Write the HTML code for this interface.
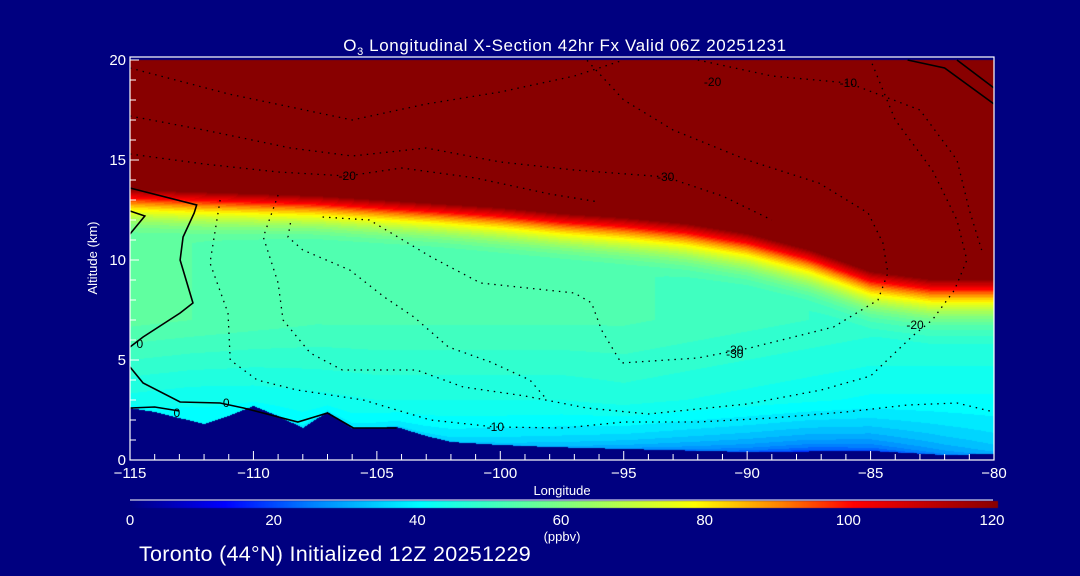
<!DOCTYPE html>
<html><head><meta charset="utf-8"><style>
body{margin:0;background:#000080;width:1080px;height:576px;overflow:hidden;font-family:"Liberation Sans",sans-serif;}
#wrap{position:relative;width:1080px;height:576px;}
canvas{position:absolute;left:0;top:0;}
svg{position:absolute;left:0;top:0;}
text{fill:#fff;font-family:"Liberation Sans",sans-serif;}
</style></head><body>
<div id="wrap">
<canvas id="cv" width="1080" height="576"></canvas>
<svg id="sv" width="1080" height="576"></svg>
</div>
<script>
// ---- data ----
const profLons = [-115,-112.5,-110,-107.5,-105,-102.5,-100,-97.5,-95,-92.5,-90,-87.5,-85,-82.5,-80];
const tropoTop = [13.5,13.4,13.3,13.2,13.0,12.8,12.6,12.3,12.1,11.8,11.3,10.5,9.4,9.0,9.0];
const bandWidth = [2.5,2.6,2.6,2.6,2.6,2.6,2.7,2.7,2.8,2.9,3.0,3.1,3.2,3.2,3.2];
const midO3 = [56,55,54,53,53,53,53,53,53,52,51,50,49,49,49];
const lowO3 = [44,43,43,44,45,45,45,45,46,45,44,43,42,42,42];
const sfcO3 = [40,40,40,38,36,34,32,30,27,24,21,18,19,24,30];
const groundLon = [-115,-114,-113,-112,-111,-110,-109,-108,-107,-106,-105,-104.2,-103,-102,-100,-98,-95,-90,-85,-82,-80];
const groundAlt = [2.6,2.4,2.1,1.8,2.2,2.7,2.2,1.6,2.4,1.6,1.6,1.65,1.2,0.9,0.75,0.65,0.55,0.4,0.45,0.25,0.3];
const xTicks = [-115,-110,-105,-100,-95,-90,-85,-80];
const yTicks = [0,5,10,15,20];
const cbTicks = [0,20,40,60,80,100,120];
const dottedContours = [
 {label:"-10", at:[-100.2,1.65], pts:[[-111.35,13],[-111.76,9.85],[-111.03,7.35],[-110.94,5],[-109.85,4],[-108.23,3.5],[-105.55,3],[-102.83,2],[-100.2,1.65],[-97.4,1.6],[-95,1.9],[-92,1.9],[-89,2.1],[-86,2.4],[-83.5,2.75],[-81.5,2.85],[-80,2.4]]},
 {label:"-20", at:[-83.2,6.75], pts:[[-109,13.25],[-109.6,11.15],[-109,8.85],[-108.8,7],[-107.7,5.35],[-106.4,4.5],[-103.4,4.5],[-101.5,3.65],[-99,3.2],[-96.5,2.6],[-94,2.3],[-90,2.8],[-87,3.5],[-85,4.2],[-83.3,6.2],[-82.5,7],[-81.6,8.5],[-81.1,10],[-81.5,12],[-82.5,14.5],[-84,17],[-85,20]]},
 {label:"-30", at:[-90.5,5.5], pts:[[-108.5,11.85],[-108.6,11.15],[-108,10.5],[-106.1,9.5],[-104.7,8.15],[-103.5,7.15],[-102.1,5.65],[-100.4,4.9],[-98.8,4],[-98.1,3]]},
 {label:"-30", at:[-90.5,5.3], pts:[[-107.2,12.15],[-105.3,12],[-102.8,10.15],[-100.8,8.85],[-97,8.35],[-96.3,7.85],[-95.9,6.5],[-95.1,4.85],[-92,5.1],[-89.9,5.6],[-86.5,6.65],[-84.7,8],[-84.3,9.35],[-84.5,10.85],[-85.1,12.35],[-87.1,13.85],[-90,15],[-93,16.5],[-95,18],[-96.5,20]]},
 {label:"-20", at:[-106.2,14.2], pts:[[-115,15.3],[-112,14.8],[-109,14.4],[-106.2,14.2],[-104,14.6],[-101,14.1],[-98,13.3],[-96,12.9]]},
 {label:"-30", at:[-93.3,14.15], pts:[[-115,17.2],[-112,16.5],[-108.5,15.6],[-106,15.2],[-103,15.6],[-100,14.9],[-97,14.5],[-93.3,14.15],[-91,13.2],[-89,12]]},
 {label:"-20", at:[-91.4,18.9], pts:[[-115,19.6],[-111,18.3],[-106,17],[-103,17.8],[-100,18.4],[-97,19.2],[-95,20]]},
 {label:"-10", at:[-85.9,18.85], pts:[[-92,20],[-89,19.2],[-85.9,18.85],[-83,17.5],[-81.5,15],[-81,12.5],[-80.5,10.5]]}
];
const solidContours = [
 {label:"0", at:[-114.6,5.8], pts:[[-115,13.6],[-112.3,12.75],[-112.4,12.35],[-112.85,11.15],[-112.97,10],[-112.45,7.85],[-112.97,7.35],[-114.47,6.15],[-115,5.65]]},
 {label:"0", at:[-111.1,2.85], pts:[[-115,4.65],[-114.47,3.85],[-112.97,2.9],[-111.35,2.85],[-110.4,2.6],[-108.2,1.9],[-107,2.35],[-105.95,1.6],[-104.2,1.6]]},
 {label:"0", at:[-113.1,2.35], pts:[[-115,2.6],[-114,2.65],[-113,2.45]]},
 {label:"", at:null, pts:[[-115,12.45],[-114.4,12.2],[-115,11.3]]},
 {label:"", at:null, pts:[[-81.5,20],[-80,18.6]]},
 {label:"", at:null, pts:[[-83.5,20],[-82,19.6],[-80,17.8]]}
];
// ---- scales ----
const X0=130,X1=994,Y0=460,Y1=60;
const xs = l => X0+(l+115)/35*(X1-X0);
const ys = a => Y0-a/20*(Y0-Y1);
function interp(xa,ya,x){ if(x<=xa[0])return ya[0]; for(let i=1;i<xa.length;i++){ if(x<=xa[i]){const t=(x-xa[i-1])/(xa[i]-xa[i-1]);return ya[i-1]+t*(ya[i]-ya[i-1]);}} return ya[ya.length-1]; }
const cstops=[[0,[0,0,130]],[13,[0,0,255]],[25,[0,128,255]],[40,[0,255,255]],[60,[128,255,128]],[78,[255,255,0]],[90,[255,128,0]],[100,[255,0,0]],[120,[136,0,0]]];
function cmap(v){ v=Math.max(0,Math.min(120,v)); for(let i=1;i<cstops.length;i++){ if(v<=cstops[i][0]){const a=cstops[i-1],b=cstops[i];const t=(v-a[0])/(b[0]-a[0]);return a[1].map((c,k)=>Math.round(c+t*(b[1][k]-c)));}} return cstops[cstops.length-1][1]; }
function field(lon,z){
  const T=interp(profLons,tropoTop,lon),B=interp(profLons,bandWidth,lon),M=interp(profLons,midO3,lon),L=interp(profLons,lowO3,lon),S=interp(profLons,sfcO3,lon),G=interp(groundLon,groundAlt,lon);
  if(z>=T) return 125;
  if(z>T-B){const t=(z-(T-B))/B;return M+t*t*(120-M);}
  if(z>=7) return M;
  if(z>=3) return L+(z-3)/4*(M-L);
  const t=Math.max(0,(z-G)/Math.max(0.1,3-G)); return S+Math.sqrt(t)*(L-S);
}
// ---- draw field ----
const cv=document.getElementById('cv'),ctx=cv.getContext('2d');
const img=ctx.createImageData(X1-X0,Y0-Y1);
for(let py=0;py<Y0-Y1;py++){ const z=(Y0-(Y1+py)-0.5)/(Y0-Y1)*20;
 for(let px=0;px<X1-X0;px++){ const lon=-115+(px+0.5)/(X1-X0)*35; const G=interp(groundLon,groundAlt,lon);
  let c; if(z<G) c=[0,0,128]; else { let v=field(lon,z); v=Math.floor(v/2.5)*2.5; c=cmap(v);}
  const i=(py*(X1-X0)+px)*4; img.data[i]=c[0];img.data[i+1]=c[1];img.data[i+2]=c[2];img.data[i+3]=255; }}
ctx.putImageData(img,X0,Y1);
// colorbar
for(let px=0;px<998-130;px++){const c=cmap(px/(998-130)*120);ctx.fillStyle=`rgb(${c})`;ctx.fillRect(130+px,501,1,7);}
// ---- svg overlay ----
const sv=document.getElementById('sv'),NS='http://www.w3.org/2000/svg';
function mk(t,a,txt){const e=document.createElementNS(NS,t);for(const k in a)e.setAttribute(k,a[k]);if(txt!==undefined)e.textContent=txt;sv.appendChild(e);return e;}
dottedContours.forEach((c,i)=>{
 const e=mk('polyline',{points:c.pts.map(p=>xs(p[0])+','+ys(p[1])).join(' '),fill:'none',stroke:'#000','stroke-width':1.3,'stroke-dasharray':'1.5 5'});
 
 
 const t=mk('text',{x:xs(c.at[0]),y:ys(c.at[1])+4,'font-size':12,'text-anchor':'middle',style:'fill:#000'},c.label);
 
 
});
solidContours.forEach((c,i)=>{
 const e=mk('polyline',{points:c.pts.map(p=>xs(p[0])+','+ys(p[1])).join(' '),fill:'none',stroke:'#000','stroke-width':1.6});
 
 
 if(c.at){const t=mk('text',{x:xs(c.at[0]),y:ys(c.at[1])+4,'font-size':12,'text-anchor':'middle',style:'fill:#000'},c.label);
 
 }
});
// frame
const fr=mk('rect',{x:X0,y:Y1-3,width:X1-X0,height:Y0-Y1+3,fill:'none',stroke:'#fff','stroke-width':1.2});


// x ticks
for(let l=-115;l<=-80;l++){const maj=(l%5===0);const e=mk('line',{x1:xs(l),x2:xs(l),y1:Y0,y2:Y0-(maj?9:6),stroke:'#fff','stroke-width':1});
 
 }
xTicks.forEach(l=>{const t=mk('text',{x:xs(l),y:Y0+18,'font-size':15,'text-anchor':'middle'},String(l).replace('-','\u2212'));
 
 });
for(let a=0;a<=20;a++){const maj=(a%5===0);const e=mk('line',{x1:X0,x2:X0+(maj?9:6),y1:ys(a),y2:ys(a),stroke:'#fff','stroke-width':1});
 
 }
yTicks.forEach(a=>{const t=mk('text',{x:X0-4,y:ys(a)+5,'font-size':15,'text-anchor':'end'},String(a));
 
 });
// colorbar
const cbl=mk('line',{x1:130,x2:993,y1:500,y2:500,stroke:'#fff','stroke-width':1});


cbTicks.forEach((v,i)=>{const t=mk('text',{x:130+v/120*(992-130),y:525,'font-size':15,'text-anchor':'middle'},String(v));
 
 });
</script>
<svg width="1080" height="576" style="position:absolute;left:0;top:0">
<text x="565" y="51" font-size="17" text-anchor="middle" letter-spacing="0.6">O<tspan font-size="11" dy="4">3</tspan><tspan dy="-4"> Longitudinal X-Section 42hr  Fx Valid 06Z 20251231</tspan></text>
<text x="97" y="258" font-size="13" text-anchor="middle" transform="rotate(-90 97 258)">Altitude (km)</text>
<text x="562" y="495" font-size="13" text-anchor="middle">Longitude</text>
<text x="562" y="541" font-size="13" text-anchor="middle">(ppbv)</text>
<text x="139" y="561" font-size="21.5" letter-spacing="0.3">Toronto (44°N) Initialized 12Z 20251229</text>
</svg>
</body></html>
